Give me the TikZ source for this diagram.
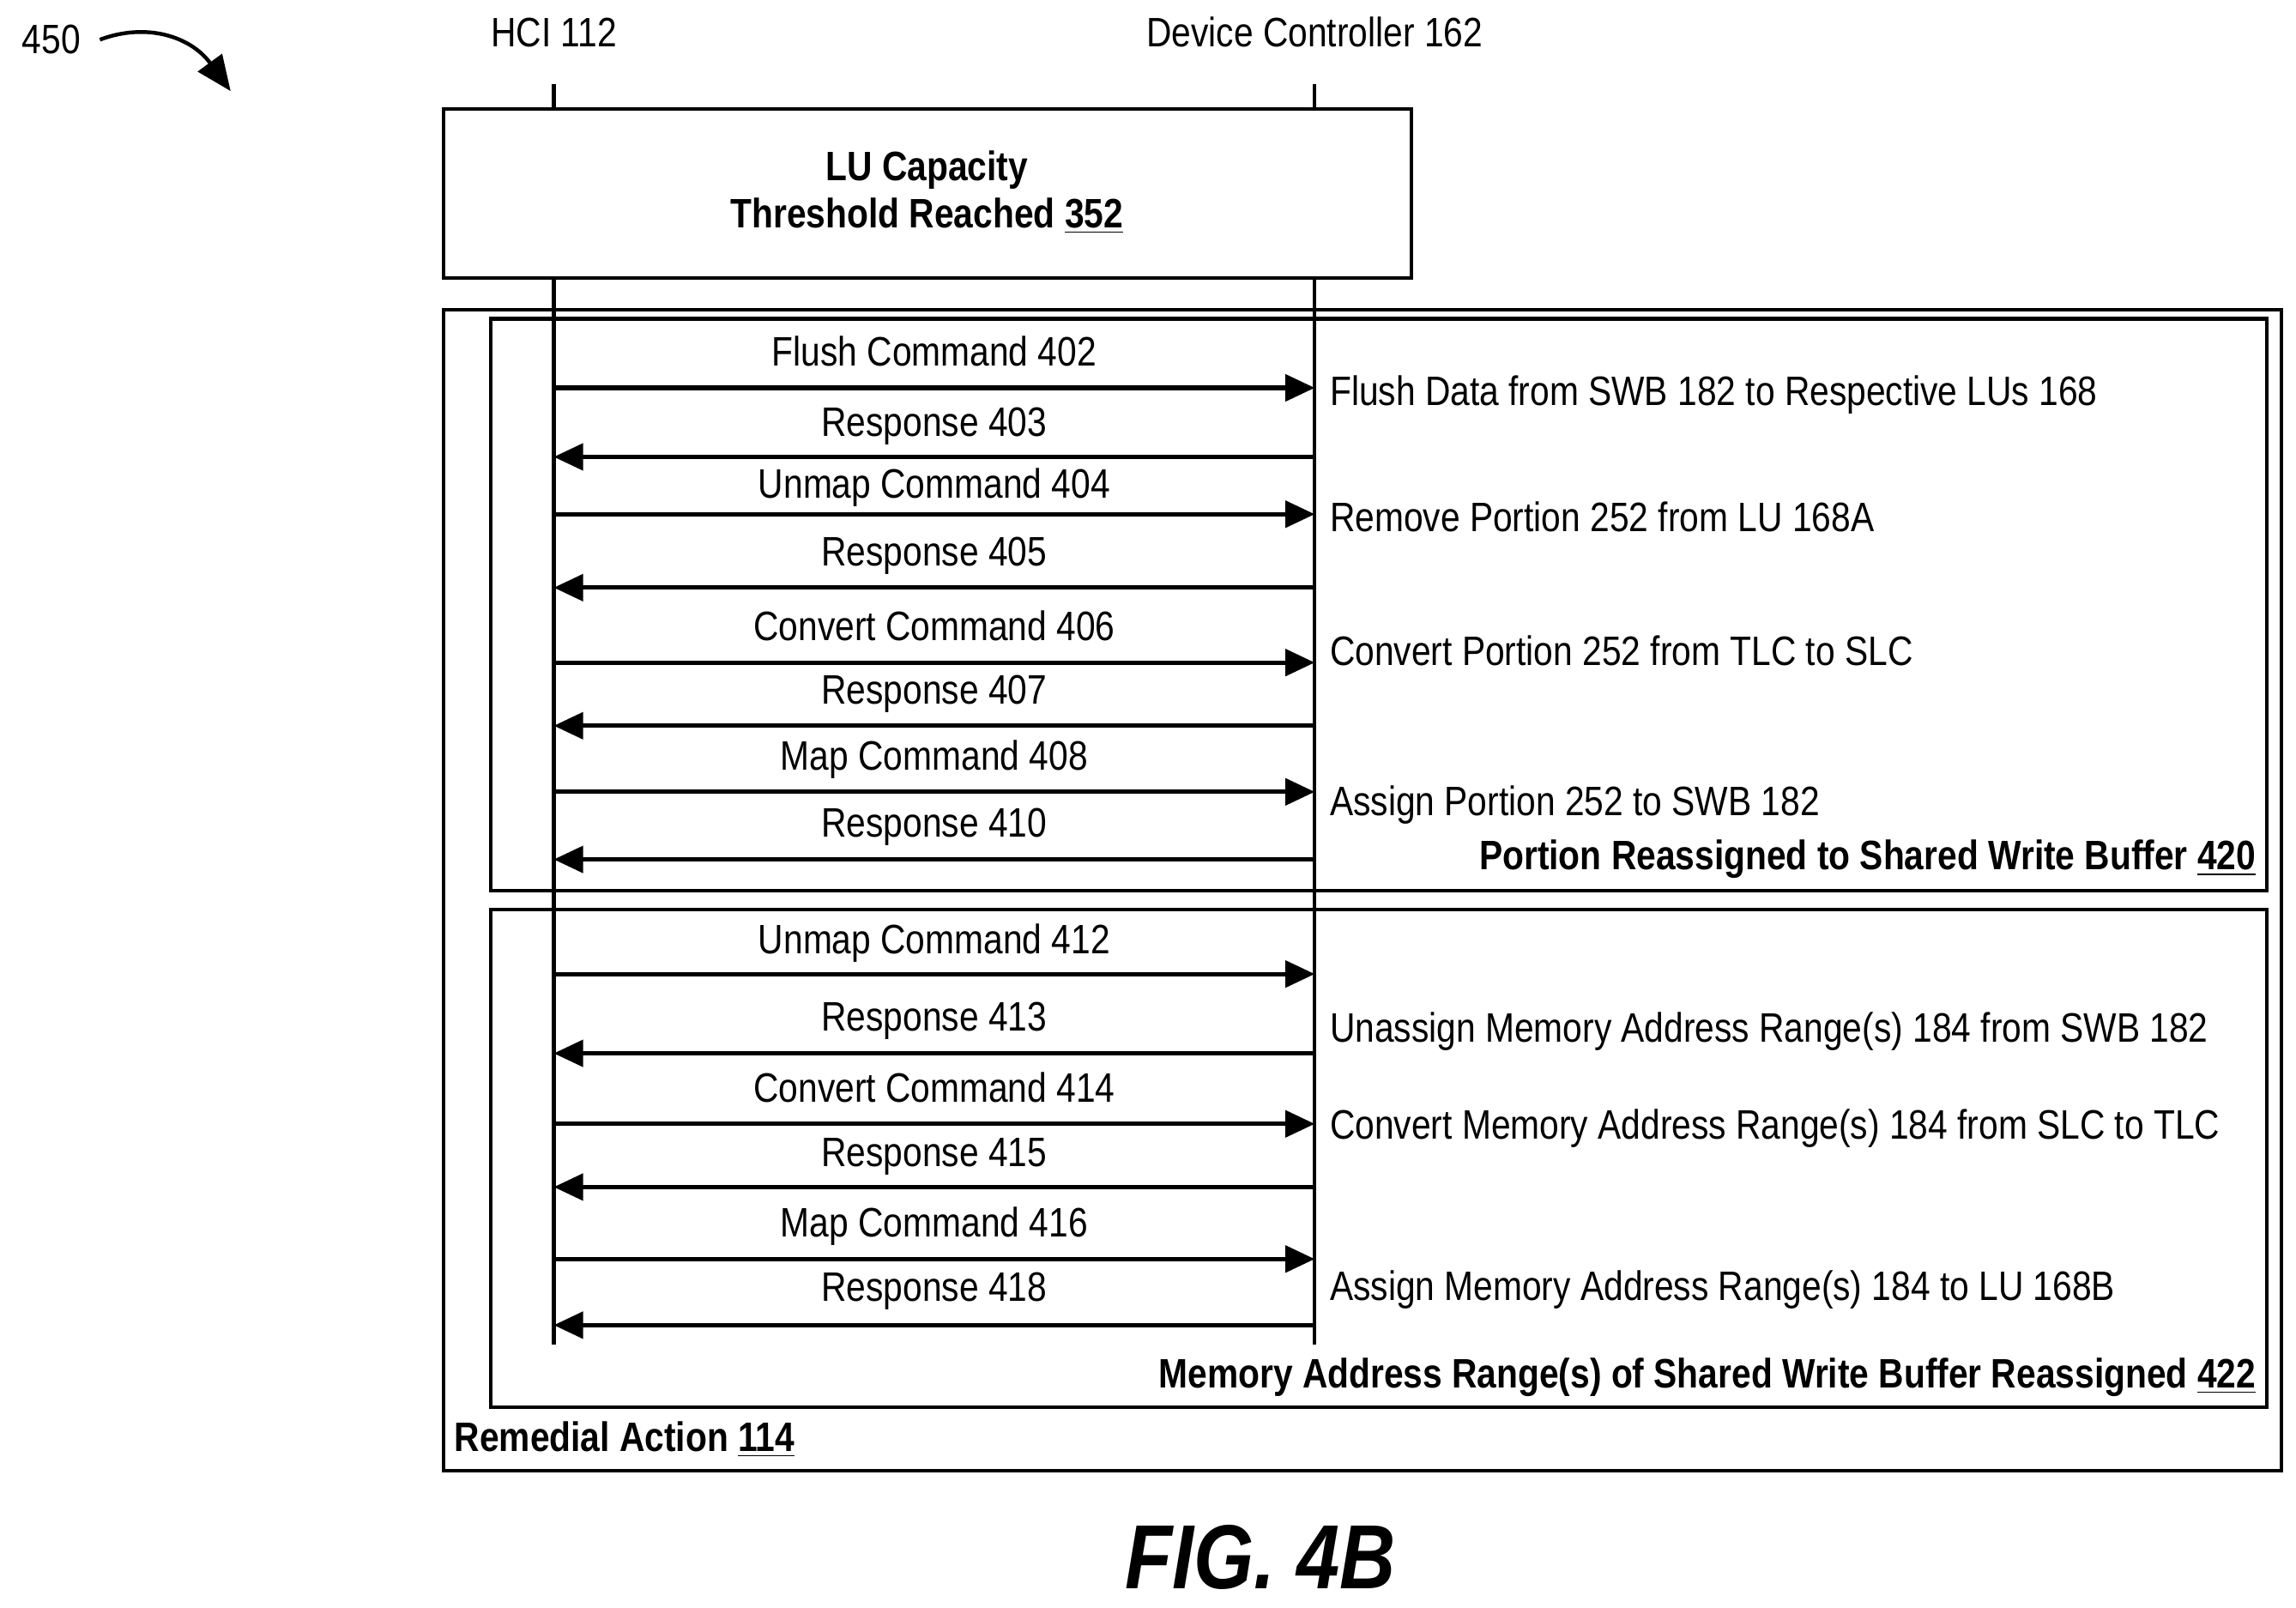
\documentclass[tikz,border=0pt]{standalone}
\usepackage{fontspec}
\setmainfont{Liberation Sans}[FakeStretch=0.85]
\usetikzlibrary{arrows.meta}
\begin{document}
\begin{tikzpicture}[x=0.5pt,y=-0.5pt,
  every node/.style={font=\fontsize{14pt}{16pt}\selectfont, inner sep=1pt},
  box/.style={draw, line width=1.2pt},
  msg/.style={line width=1.5pt, -{Triangle[length=10pt,width=9pt]}},
  lbl/.style={anchor=base},
  rt/.style={anchor=west},
  bl/.style={font=\fontsize{14pt}{16pt}\selectfont\bfseries}]
\useasboundingbox (0,0) rectangle (1563,1094);
\node (n450) at (35,27) {450};
\coordinate (a1) at (68,27);
\coordinate (a2) at (157,62);
\draw[line width=1.3pt,-{Triangle[length=12pt,width=10pt]}] (a1) .. controls (100,15) and (130,25) .. (a2);
\node (hci) at (377,22) {HCI 112};
\node (dc) at (895,22) {Device Controller 162};
\coordinate (h0) at (377,57); \coordinate (h1) at (377,915);
\coordinate (d0) at (895,57); \coordinate (d1) at (895,915);
\draw[line width=1.2pt] (h0) -- (h1);
\draw[line width=1.2pt] (d0) -- (d1);
\draw[box, fill=white] (302,74) rectangle (961,189);
\node[bl, align=center] (topt) at (631,131) {LU Capacity\\Threshold Reached \underline{352}};
\draw[line width=1.2pt] (377,189) -- (377,211);
\draw[line width=1.2pt] (895,189) -- (895,211);
\draw[box] (302,211) rectangle (1553,1001);
\draw[box] (334,217) rectangle (1543,606);
\draw[box] (334,619) rectangle (1543,958);
\node[bl, anchor=base west] (ra) at (307,988) {Remedial Action \underline{114}};
\node[bl, anchor=base east] (b1) at (1538,592) {Portion Reassigned to Shared Write Buffer \underline{420}};
\node[bl, anchor=base east] (b2) at (1538,945) {Memory Address Range(s) of Shared Write Buffer Reassigned \underline{422}};
\foreach \y/\d/\t/\ty in {
 264/r/Flush Command 402/249, 311/l/Response 403/297, 350/r/Unmap Command 404/339, 400/l/Response 405/385,
 451/r/Convert Command 406/436, 494/l/Response 407/479, 539/r/Map Command 408/524, 585/l/Response 410/570,
 663/r/Unmap Command 412/649, 717/l/Response 413/702, 765/r/Convert Command 414/750, 808/l/Response 415/794,
 857/r/Map Command 416/842, 902/l/Response 418/886}{
  \coordinate (L\y) at (377,\y); \coordinate (R\y) at (895,\y);
  \if\d r \draw[msg] (L\y) -- (R\y); \else \draw[msg] (R\y) -- (L\y); \fi
  \node[lbl] (t\y) at (636,\ty) {\t};
}
\node[rt] (s1) at (903,269) {Flush Data from SWB 182 to Respective LUs 168};
\node[rt] (s2) at (903,352) {Remove Portion 252 from LU 168A};
\node[rt] (s3) at (903,443) {Convert Portion 252 from TLC to SLC};
\node[rt] (s4) at (903,548) {Assign Portion 252 to SWB 182};
\node[rt] (s5) at (903,702) {Unassign Memory Address Range(s) 184 from SWB 182};
\node[rt] (s6) at (903,768) {Convert Memory Address Range(s) 184 from SLC to TLC};
\node[rt] (s7) at (903,878) {Assign Memory Address Range(s) 184 to LU 168B};
\node[font=\fontsize{31pt}{33pt}\selectfont\bfseries\itshape] (fig) at (858,1060) {FIG. 4B};
\end{tikzpicture}
\end{document}
